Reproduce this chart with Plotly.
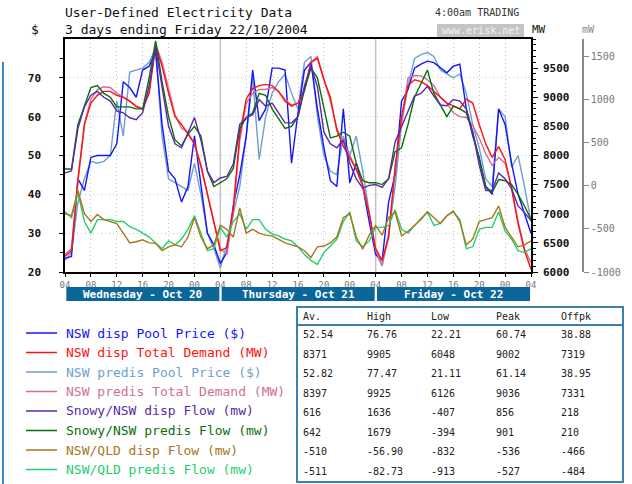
import plotly.graph_objects as go

# ---------------- data (hourly, 04:00 Wed 20/10/2004 -> 04:00 Sat 23/10/2004) ----------------
hours = list(range(73))
x_tick_vals = list(range(0, 73, 4))
x_tick_text = ["04", "08", "12", "16", "20", "00"] * 3 + ["04"]
day_labels = ["Wednesday - Oct 20", "Thursday - Oct 21", "Friday - Oct 22"]
day_starts = [0, 24, 48]

price_ticks = [20, 30, 40, 50, 60, 70]
mw_ticks = [6000, 6500, 7000, 7500, 8000, 8500, 9000, 9500]
flow_ticks = [-1000, -500, 0, 500, 1000, 1500]

nsw_disp_price = [23.5, 24, 44, 41, 49.5, 50, 50, 50, 53, 69, 67.5, 65, 72, 73, 76.76, 58, 46, 44, 38, 42,
                  55, 42, 30, 27, 22.21, 25, 37, 45, 55, 72, 59, 62, 72.5, 72.5, 72, 48, 61, 72, 74, 62,
                  52, 43.5, 42, 62, 43, 48, 42, 33, 24.5, 23, 38, 45, 64, 67, 72.5, 73.5, 74.3, 73.9, 72.5, 71.3,
                  73, 73.5, 62, 55, 49.5, 42, 40, 62, 58, 48, 40, 35, 30]
nsw_predis_price = [23, 25, 38, 44, 48.5, 48, 48.5, 50, 64, 55, 71.5, 72, 72.5, 74, 77.47, 55, 44, 43, 42, 41,
                    48, 40, 30, 26, 21.11, 27, 35, 42, 55, 70, 49, 60, 66, 69, 71, 66, 62, 74, 75.5, 60,
                    50, 46, 45, 55, 50, 55, 46, 35, 25, 21.5, 30, 42, 58, 68, 75, 76, 76.5, 75.5, 72, 71,
                    70, 71, 66, 58, 52, 44, 42, 62, 60, 47, 50, 42, 33]
nsw_disp_demand = [6267, 6367, 7600, 8533, 8900, 9033, 9100, 9100, 9033, 9000, 8933, 8847, 8800, 9067, 9880, 9533,
                   9067, 8667, 8533, 8367, 8200, 7833, 7333, 6867, 6367, 6420, 7100, 8350, 8970, 9150, 9200, 9220,
                   9200, 9100, 8933, 8847, 8900, 9133, 9600, 9667, 9300, 9000, 8433, 8160, 7947, 7760, 7500, 7000,
                   6400, 6200, 6600, 7800, 8667, 9200, 9300, 9267, 9200, 9100, 9000, 8900, 8853, 8800, 8967, 8900,
                   8533, 8200, 7967, 8153, 7933, 7433, 6833, 6367, 6048]
nsw_predis_demand = [6300, 6400, 7533, 8533, 8967, 9133, 9180, 9167, 9067, 9000, 8933, 8833, 8800, 9100, 9925, 9600,
                     9133, 8700, 8467, 8400, 8200, 7800, 7333, 6867, 6400, 6300, 7000, 8250, 8900, 9067, 9133, 9133,
                     9167, 9100, 8967, 8867, 8900, 9100, 9600, 9700, 9333, 8933, 8467, 8233, 8000, 7767, 7467, 7000,
                     6367, 6126, 6600, 7733, 8600, 9333, 9373, 9367, 9300, 9200, 9000, 8900, 8733, 8667, 8653, 8513,
                     8300, 8033, 7833, 7967, 7867, 7467, 6867, 6400, 6160]
snowy_disp_flow = [148, 170, 665, 913, 1048, 1093, 1025, 980, 868, 845, 787, 764, 845, 1160, 1600, 1160, 688, 485,
                   440, 611, 790, 530, 170, 35, 89, 107, 250, 710, 787, 823, 998, 922, 958, 845, 728, 728, 800, 1160,
                   1385, 1150, 620, 485, 440, 530, 260, 80, -28, 4, 13, -19, 80, 508, 688, 881, 1039, 1070, 1151,
                   1039, 935, 926, 998, 980, 890, 620, 238, -55, -55, 148, 80, -33, -235, -312, -405]
snowy_predis_flow = [193, 193, 710, 935, 1138, 1160, 1070, 1025, 913, 913, 913, 890, 890, 1250, 1679, 1205, 800, 530,
                     463, 598, 688, 575, 170, -10, 35, 80, 200, 665, 787, 845, 1070, 1048, 890, 778, 665, 688, 800,
                     1115, 1363, 1250, 890, 553, 575, 620, 575, 260, 58, 35, 35, 13, 80, 395, 440, 710, 1025, 1183,
                     1340, 1070, 935, 800, 922, 890, 845, 620, 305, -10, -78, 71, 58, 13, -100, -235, -390]
qld_disp_flow = [-325, -348, -57, -325, -415, -334, -393, -415, -438, -550, -663, -649, -627, -663, -667, -753, -708,
                 -685, -708, -595, -370, -595, -730, -685, -460, -505, -595, -258, -550, -505, -550, -573, -582, -622,
                 -663, -685, -708, -753, -832, -708, -699, -663, -595, -370, -325, -595, -735, -573, -460, -573, -370,
                 -303, -582, -528, -460, -393, -303, -370, -438, -348, -294, -415, -685, -618, -415, -393, -370, -235,
                 -483, -595, -708, -685, -640]
qld_predis_flow = [-303, -370, -83, -415, -550, -393, -393, -393, -415, -415, -474, -505, -550, -595, -663, -730, -640,
                   -685, -618, -505, -348, -550, -753, -730, -483, -595, -415, -325, -505, -393, -393, -505, -559, -582,
                   -618, -640, -708, -798, -865, -913, -775, -699, -622, -415, -303, -640, -708, -640, -483, -483, -460,
                   -280, -505, -550, -460, -379, -303, -460, -438, -348, -303, -393, -730, -708, -505, -483, -483, -303,
                   -528, -618, -753, -775, -730]

series_names = ["NSW disp Pool Price ($)", "NSW disp Total Demand (MW)", "NSW predis Pool Price ($)",
                "NSW predis Total Demand (MW)", "Snowy/NSW disp Flow (mw)", "Snowy/NSW predis Flow (mw)",
                "NSW/QLD disp Flow (mw)", "NSW/QLD predis Flow (mw)"]
series_values = [nsw_disp_price, nsw_disp_demand, nsw_predis_price, nsw_predis_demand,
                 snowy_disp_flow, snowy_predis_flow, qld_disp_flow, qld_predis_flow]

table_header = ["Av.", "High", "Low", "Peak", "Offpk"]
stat_av = ["52.54", "8371", "52.82", "8397", "616", "642", "-510", "-511"]
stat_high = ["76.76", "9905", "77.47", "9925", "1636", "1679", "-56.90", "-82.73"]
stat_low = ["22.21", "6048", "21.11", "6126", "-407", "-394", "-832", "-913"]
stat_peak = ["60.74", "9002", "61.14", "9036", "856", "901", "-536", "-527"]
stat_offpk = ["38.88", "7319", "38.95", "7331", "218", "210", "-466", "-484"]

# ---------------- styles ----------------
colors = ["#1414ff", "#ff1010", "#6f9fd0", "#d0709a", "#5a28a8", "#0a6e0a", "#a8761a", "#20d070"]
axis_of = ["y", "y2", "y", "y2", "y3", "y3", "y3", "y3"]
draw_order = [2, 0, 7, 6, 5, 4, 3, 1]
MONO = "DejaVu Sans Mono"

W, H = 632, 484
ML, MR, MT, MB = 65, 32, 39, 212
PW = W - ML - MR
PH = H - MT - MB


def px(x):
    return (x - ML) / PW


def py(y):
    return (MT + PH - y) / PH


fig = go.Figure()
for i in draw_order:
    fig.add_trace(go.Scatter(x=hours, y=series_values[i], yaxis=axis_of[i], mode="lines",
                             name=series_names[i], line=dict(color=colors[i], width=1.4),
                             showlegend=False, hoverinfo="skip"))

shapes = []
annotations = []

# day separators
for d in day_starts[1:]:
    shapes.append(dict(type="line", xref="x", yref="paper", x0=d, x1=d, y0=0, y1=1,
                       line=dict(color="#c0c0c0", width=1.5), layer="below"))

# date bars
for d, lab in zip(day_starts, day_labels):
    shapes.append(dict(type="rect", xref="x", yref="paper", x0=d + 0.2, x1=d + 23.85,
                       y0=py(301), y1=py(287), fillcolor="#0b6699", line=dict(width=0)))
    annotations.append(dict(xref="x", yref="paper", x=d + 12, y=py(294), text=lab, showarrow=False,
                            font=dict(family=MONO, size=11, color="white", weight="bold"),
                            xanchor="center", yanchor="middle"))

# page frame line on the left
shapes.append(dict(type="line", xref="paper", yref="paper", x0=px(3), x1=px(3), y0=py(62), y1=py(484),
                   line=dict(color="#3a8ac0", width=2)))


def txt(x, y, s, size=13, color="#111", anchor="left", weight="normal"):
    annotations.append(dict(xref="paper", yref="paper", x=px(x), y=py(y), text=s, showarrow=False,
                            font=dict(family=MONO, size=size, color=color, weight=weight),
                            xanchor=anchor, yanchor="middle"))


# header texts
txt(63, 13, "User-Defined Electricity Data", 13)
txt(63, 29, "3 days ending Friday 22/10/2004", 13)
txt(35, 29, "$", 13, anchor="center")
txt(433, 13, "4:00am TRADING", 10, color="#333")
shapes.append(dict(type="rect", xref="paper", yref="paper", x0=px(437), x1=px(524), y0=py(37), y1=py(24),
                   fillcolor="#c4c4c4", line=dict(width=0)))
txt(480.5, 30.5, "www.erisk.net", 10, color="#f2f2f2", anchor="center")
txt(538.5, 29, "MW", 11, color="#111", anchor="center")
txt(588, 29, "mW", 10, color="#888", anchor="center")

# legend
for i, name in enumerate(series_names):
    yy = 333 + 19.5 * i
    shapes.append(dict(type="line", xref="paper", yref="paper", x0=px(26), x1=px(57), y0=py(yy), y1=py(yy),
                       line=dict(color=colors[i], width=1.5)))
    txt(64, yy, name, 13, color=colors[i])

# table
shapes.append(dict(type="rect", xref="paper", yref="paper", x0=px(297), x1=px(623), y0=py(482), y1=py(307),
                   line=dict(color="#3d7fae", width=2)))
shapes.append(dict(type="line", xref="paper", yref="paper", x0=px(297), x1=px(623), y0=py(325), y1=py(325),
                   line=dict(color="#3d7fae", width=2)))
col_x = [301, 365, 429, 494, 559]
for cx, h in zip(col_x, table_header):
    txt(cx, 316, h, 10, color="#222")
for cx, col in zip(col_x, [stat_av, stat_high, stat_low, stat_peak, stat_offpk]):
    for r, v in enumerate(col):
        txt(cx, 334.5 + 19.5 * r, v, 10, color="#222")

grid = dict(showgrid=True, gridcolor="#c4c4c4", griddash="1px,3px", gridwidth=1)

fig.update_layout(
    width=W, height=H, margin=dict(l=ML, r=MR, t=MT, b=MB),
    paper_bgcolor="white", plot_bgcolor="white", showlegend=False,
    font=dict(family=MONO),
    xaxis=dict(domain=[0, 466 / PW], range=[0, 72], tickmode="array", tickvals=x_tick_vals,
               ticktext=x_tick_text, showline=True, linecolor="black", linewidth=1.5, mirror=True,
               ticks="outside", ticklen=3, tickcolor="black", zeroline=False,
               tickfont=dict(family=MONO, size=9, color="#777"), **grid),
    yaxis=dict(range=[20, 80], tickmode="array", tickvals=price_ticks, ticktext=[str(v) for v in price_ticks],
               showline=True, linecolor="black", linewidth=1.5, mirror=True, ticks="outside", ticklen=4,
               tickcolor="black", zeroline=False, ticklabelstandoff=16,
               minor=dict(tick0=25, dtick=10, ticks="outside", ticklen=3, tickcolor="black", showgrid=False),
               tickfont=dict(family=MONO, size=11, color="#111", weight="bold"), **grid),
    yaxis2=dict(overlaying="y", side="right", anchor="x", range=[6000, 10000], tickmode="array",
                tickvals=mw_ticks, ticktext=[str(v) for v in mw_ticks], showline=True, linecolor="black",
                linewidth=1.5, ticks="outside", ticklen=5, tickcolor="black", showgrid=False, zeroline=False,
                ticklabelstandoff=3,
                minor=dict(tick0=6000, dtick=100, ticks="outside", ticklen=3, tickcolor="black", showgrid=False),
                tickfont=dict(family=MONO, size=11, color="#111", weight="bold")),
    yaxis3=dict(overlaying="y", side="right", anchor="free", position=px(583), range=[-1000, 1700],
                tickmode="array", tickvals=flow_ticks, ticktext=[str(v) for v in flow_ticks],
                showline=True, linecolor="#888", linewidth=1.5, ticks="outside", ticklen=5, tickcolor="#888",
                showgrid=False, zeroline=False,
                tickfont=dict(family=MONO, size=10, color="#777")),
    shapes=shapes, annotations=annotations,
)

fig.write_html("out.html", config={"displayModeBar": False},
               post_script="document.body.style.margin='0';document.body.style.overflow='hidden';")
